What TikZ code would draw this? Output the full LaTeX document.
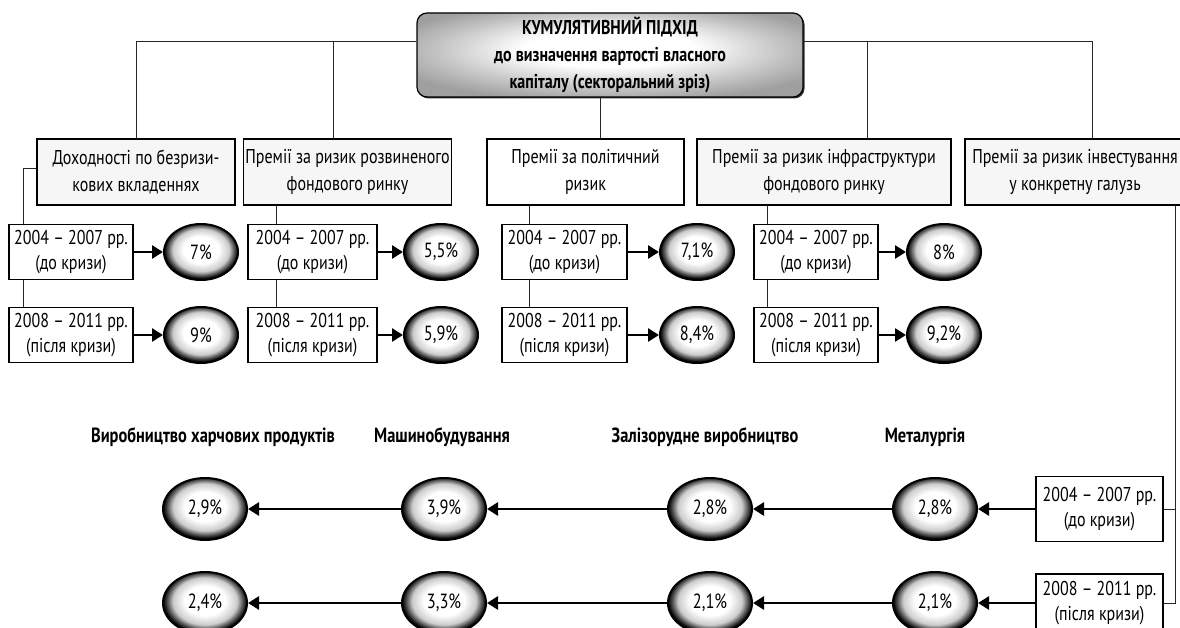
\documentclass[tikz,border=0pt]{standalone}
\usepackage{fontspec}
\setmainfont{PT Sans}[FakeStretch=0.8]
\usetikzlibrary{arrows.meta,shapes.geometric,shadows}
\pgfdeclareradialshading{ballshade}{\pgfpoint{0bp}{2.5bp}}{color(0bp)=(white); color(12bp)=(white); color(19bp)=(gray!40); color(23bp)=(black!75); color(25bp)=(black); color(50bp)=(black)}
\pgfdeclareradialshading{boxshade}{\pgfpoint{0bp}{5bp}}{color(0bp)=(white); color(11bp)=(white); color(22bp)=(gray!45); color(30bp)=(gray!75); color(50bp)=(gray!75)}
\begin{document}
\begin{tikzpicture}[x=1pt,y=-1pt,
  conn/.style={draw=black!85, line width=0.9pt},
  topbox/.style={draw, rounded corners=10pt, line width=1.2pt, shading=boxshade,
    minimum width=386pt, minimum height=84pt, align=center, inner sep=2pt,
    font=\bfseries\fontsize{20}{27}\selectfont,
    drop shadow={shadow xshift=1.5pt, shadow yshift=-1.5pt, opacity=.8, fill=black}},
  colbox/.style={draw, line width=1.2pt, fill=gray!7, align=center, minimum height=66pt,
    inner sep=2pt, font=\fontsize{20}{27}\selectfont},
  yearbox/.style={draw, line width=1.2pt, fill=white, align=center, minimum height=55pt,
    inner sep=2pt, font=\fontsize{20}{25}\selectfont},
  pct/.style={ellipse, draw, line width=2pt, shading=ballshade, minimum width=74pt,
    minimum height=56pt, inner sep=0pt, font=\fontsize{20.5}{20}\selectfont},
  bpct/.style={pct, minimum width=84pt, minimum height=62pt},
  arr/.style={line width=2.6pt, -{Triangle[length=11pt,width=13pt]}},
  head/.style={font=\bfseries\fontsize{20.5}{20}\selectfont}
]
\useasboundingbox (0,0) rectangle (1180,628);

% top box
\node[topbox] (top) at (610,55) {КУМУЛЯТИВНИЙ ПІДХІД\\до визначення вартості власного\\капіталу (секторальний зріз)};

% column boxes
\node[colbox, minimum width=198pt] (c1) at (136,172) {Доходності по безризи-\\кових вкладеннях};
\node[colbox, minimum width=197pt] (c2) at (347.5,172) {Премії за ризик розвиненого\\фондового ринку};
\node[colbox, minimum width=197pt, fill=white] (c3) at (585.5,172) {Премії за політичний\\ризик};
\node[colbox, minimum width=254pt] (c4) at (824,172) {Премії за ризик інфраструктури\\фондового ринку};
\node[colbox, minimum width=220pt] (c5) at (1075,172) {Премії за ризик інвестування\\у конкретну галузь};

% connectors from top box
\coordinate (d2) at (333,41);
\coordinate (d4) at (867,41);
\coordinate (d5) at (1092,41);
\draw[conn] (c1.north) |- ([yshift=14pt]top.west);
\draw[conn] (d2) -- (d2 |- c2.north);
\draw[conn] ([yshift=14pt]top.east) -| (d5 |- c5.north);
\draw[conn] (d4) -- (d4 |- c4.north);
\draw[conn] ([xshift=-10pt]top.south) -- ([xshift=-10pt]top.south |- c3.north);

% year boxes (top section)
\node[yearbox, minimum width=124pt] (y11) at (71,252) {2004 – 2007 рр.\\(до кризи)};
\node[yearbox, minimum width=124pt] (y12) at (71,335) {2008 – 2011 рр.\\(після кризи)};
\node[yearbox, minimum width=129pt] (y21) at (312.5,252) {2004 – 2007 рр.\\(до кризи)};
\node[yearbox, minimum width=129pt] (y22) at (312.5,335) {2008 – 2011 рр.\\(після кризи)};
\node[yearbox, minimum width=125pt] (y31) at (564.5,252) {2004 – 2007 рр.\\(до кризи)};
\node[yearbox, minimum width=125pt] (y32) at (564.5,335) {2008 – 2011 рр.\\(після кризи)};
\node[yearbox, minimum width=124pt] (y41) at (816,252) {2004 – 2007 рр.\\(до кризи)};
\node[yearbox, minimum width=124pt] (y42) at (816,335) {2008 – 2011 рр.\\(після кризи)};

% ellipses (top section)
\node[pct] (p11) at (201,252) {7\%};
\node[pct] (p12) at (201,335) {9\%};
\node[pct] (p21) at (441,252) {5,5\%};
\node[pct] (p22) at (441,335) {5,9\%};
\node[pct] (p31) at (697,252) {7,1\%};
\node[pct] (p32) at (697,335) {8,4\%};
\node[pct] (p41) at (944,252) {8\%};
\node[pct] (p42) at (944,335) {9,2\%};

\foreach \c in {1,2,3,4}{
  \draw[arr] (y\c1.east) -- (p\c1.west);
  \draw[arr] (y\c2.east) -- (p\c2.west);
}

% vertical links in the top section
\coordinate (x1) at (23,0);
\coordinate (x2) at (276,0);
\coordinate (x3) at (529,0);
\coordinate (x4) at (767,0);
\draw[conn] ([yshift=4pt]c1.west) -| (x1 |- y11.north);
\draw[conn] (x1 |- y11.south) -- (x1 |- y12.north);
\draw[conn] (x2 |- c2.south) -- (x2 |- y21.north);
\draw[conn] (x2 |- y21.south) -- (x2 |- y22.north);
\draw[conn] (x3 |- c3.south) -- (x3 |- y31.north);
\draw[conn] (x3 |- y31.south) -- (x3 |- y32.north);
\draw[conn] (x4 |- c4.south) -- (x4 |- y41.north);
\draw[conn] (x4 |- y41.south) -- (x4 |- y42.north);

% bottom section
\node[head] (h1) at (213,437) {Виробництво харчових продуктів};
\node[head] (h2) at (442,437) {Машинобудування};
\node[head] (h3) at (705,437) {Залізорудне виробництво};
\node[head] (h4) at (925,437) {Металургія};

\node[yearbox, minimum width=127pt, minimum height=65pt] (r1) at (1099.5,509) {2004 – 2007 рр.\\(до кризи)};
\node[yearbox, minimum width=127pt, minimum height=58pt] (r2) at (1099.5,603) {2008 – 2011 рр.\\(після кризи)};

\node[bpct] (a1) at (935,509) {2,8\%};
\node[bpct] (b1) at (710,509) {2,8\%};
\node[bpct] (e1) at (444,509) {3,9\%};
\node[bpct] (f1) at (205,509) {2,9\%};
\node[bpct] (a2) at (935,603) {2,1\%};
\node[bpct] (b2) at (710,603) {2,1\%};
\node[bpct] (e2) at (444,603) {3,3\%};
\node[bpct] (f2) at (205,603) {2,4\%};

\draw[arr] (r1.west) -- (a1.east);
\draw[arr] (a1.west) -- (b1.east);
\draw[arr] (b1.west) -- (e1.east);
\draw[arr] (e1.west) -- (f1.east);
\draw[arr] (r2.west) -- (a2.east);
\draw[arr] (a2.west) -- (b2.east);
\draw[arr] (b2.west) -- (e2.east);
\draw[arr] (e2.west) -- (f2.east);

\coordinate (xr) at (1175,0);
\draw[conn] (xr |- c5.south) |- (r2.east);
\draw[conn] (xr |- r1.east) -- (r1.east);
\end{tikzpicture}
\end{document}
